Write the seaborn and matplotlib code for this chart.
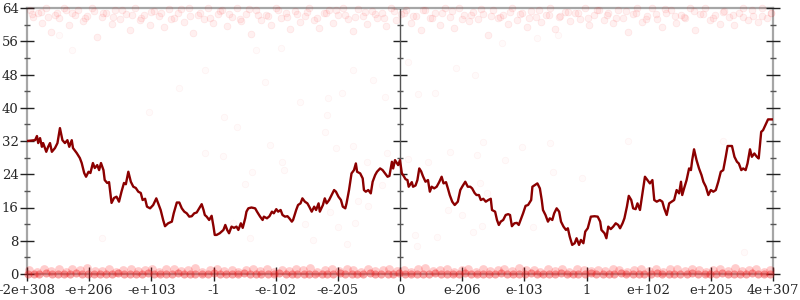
import matplotlib
matplotlib.use("Agg")
import matplotlib.pyplot as plt
import seaborn as sns
from matplotlib.ticker import MultipleLocator

# ---------------- data ----------------
tick_labels = ["-2e+308", "-e+206", "-e+103", "-1", "-e-102", "-e-205", "0",
               "e-206", "e-103", "1", "e+102", "e+205", "4e+307"]
tick_pos = [-6, -5, -4, -3, -2, -1, 0, 1, 2, 3, 4, 5, 6]
y_major = [0, 8, 16, 24, 32, 40, 48, 56, 64]

line_x = [
    -6.00, -5.87, -5.84, -5.82, -5.79, -5.76, -5.74, -5.69, -5.66, -5.63,
    -5.60, -5.55, -5.51, -5.47, -5.43, -5.39, -5.35, -5.32, -5.28, -5.26,
    -5.20, -5.15, -5.12, -5.08, -5.05, -5.01, -4.98, -4.94, -4.91, -4.87,
    -4.84, -4.81, -4.77, -4.75, -4.71, -4.68, -4.64, -4.60, -4.56, -4.52,
    -4.48, -4.44, -4.41, -4.37, -4.33, -4.29, -4.25, -4.21, -4.17, -4.14,
    -4.10, -4.07, -4.02, -3.97, -3.92, -3.89, -3.85, -3.81, -3.78, -3.73,
    -3.67, -3.64, -3.59, -3.55, -3.51, -3.47, -3.43, -3.39, -3.35, -3.31,
    -3.27, -3.23, -3.19, -3.16, -3.14, -3.11, -3.07, -3.03, -3.00, -2.98,
    -2.95, -2.90, -2.84, -2.81, -2.78, -2.75, -2.71, -2.67, -2.63, -2.60,
    -2.56, -2.53, -2.49, -2.47, -2.44, -2.39, -2.33, -2.30, -2.25, -2.21,
    -2.19, -2.14, -2.10, -2.06, -2.03, -1.99, -1.96, -1.92, -1.89, -1.85,
    -1.81, -1.78, -1.74, -1.72, -1.67, -1.64, -1.60, -1.57, -1.53, -1.49,
    -1.46, -1.42, -1.38, -1.35, -1.31, -1.29, -1.24, -1.21, -1.18, -1.14,
    -1.10, -1.06, -1.03, -0.99, -0.95, -0.92, -0.88, -0.86, -0.82, -0.78,
    -0.74, -0.71, -0.69, -0.64, -0.60, -0.58, -0.55, -0.51, -0.47, -0.44,
    -0.40, -0.37, -0.32, -0.28, -0.24, -0.20, -0.17, -0.13, -0.11, -0.08,
    -0.03, 0.00, 0.03, 0.05, 0.09, 0.12, 0.14, 0.19, 0.21, 0.25,
    0.28, 0.31, 0.34, 0.37, 0.41, 0.45, 0.48, 0.51, 0.55, 0.59,
    0.63, 0.67, 0.70, 0.74, 0.77, 0.80, 0.84, 0.88, 0.93, 0.97,
    1.00, 1.05, 1.09, 1.13, 1.16, 1.20, 1.23, 1.27, 1.30, 1.34,
    1.38, 1.42, 1.46, 1.48, 1.53, 1.56, 1.59, 1.62, 1.66, 1.70,
    1.74, 1.77, 1.80, 1.84, 1.88, 1.91, 1.95, 1.98, 2.02, 2.06,
    2.11, 2.13, 2.17, 2.21, 2.25, 2.28, 2.30, 2.34, 2.38, 2.41,
    2.45, 2.48, 2.52, 2.56, 2.59, 2.63, 2.67, 2.70, 2.73, 2.77,
    2.81, 2.84, 2.88, 2.91, 2.95, 2.98, 3.02, 3.07, 3.13, 3.18,
    3.22, 3.24, 3.29, 3.32, 3.35, 3.39, 3.43, 3.47, 3.51, 3.54,
    3.58, 3.61, 3.65, 3.68, 3.72, 3.75, 3.79, 3.82, 3.86, 3.90,
    3.94, 3.98, 4.02, 4.06, 4.09, 4.13, 4.18, 4.22, 4.25, 4.29,
    4.33, 4.37, 4.41, 4.45, 4.49, 4.52, 4.54, 4.57, 4.61, 4.65,
    4.68, 4.70, 4.73, 4.77, 4.81, 4.85, 4.88, 4.92, 4.96, 5.00,
    5.04, 5.08, 5.12, 5.16, 5.20, 5.24, 5.27, 5.34, 5.38, 5.42,
    5.45, 5.49, 5.52, 5.56, 5.59, 5.63, 5.66, 5.70, 5.74, 5.77,
    5.81, 5.84, 5.88, 5.92, 6.00,
]
line_y = [
    32.0, 32.2, 33.2, 31.5, 32.7, 30.6, 31.5, 29.4, 30.6, 31.5,
    29.4, 30.3, 31.5, 35.1, 32.2, 31.5, 32.2, 30.6, 32.2, 30.3,
    29.1, 27.9, 26.7, 24.3, 23.4, 24.6, 24.3, 26.7, 25.5, 26.2,
    25.0, 26.7, 25.0, 22.6, 21.9, 22.1, 17.1, 18.3, 18.6, 17.4,
    19.8, 21.9, 21.6, 24.6, 22.2, 21.0, 20.7, 19.8, 19.5, 17.8,
    18.1, 16.2, 15.8, 16.6, 18.2, 17.0, 15.4, 13.0, 11.5, 12.2,
    12.6, 14.6, 17.2, 17.2, 15.8, 15.0, 14.6, 13.8, 13.9, 14.6,
    14.8, 15.8, 16.8, 15.4, 14.2, 13.8, 13.0, 14.0, 11.4, 9.4,
    9.4, 9.8, 10.6, 11.8, 10.6, 9.8, 11.4, 11.1, 11.4, 10.6,
    12.2, 11.1, 13.4, 15.0, 15.8, 16.0, 15.8, 15.0, 13.8, 13.0,
    13.8, 13.4, 13.9, 15.0, 14.6, 15.6, 15.0, 15.4, 14.2, 13.8,
    13.9, 13.4, 12.6, 13.0, 15.4, 16.6, 17.0, 18.2, 17.4, 17.0,
    16.2, 15.0, 16.2, 15.4, 17.0, 15.0, 16.6, 18.2, 17.0, 17.8,
    19.0, 20.2, 19.8, 18.6, 17.8, 16.2, 15.8, 17.0, 20.2, 24.2,
    25.0, 26.6, 24.6, 24.2, 23.0, 20.2, 19.8, 20.2, 19.4, 22.2,
    23.8, 24.6, 25.4, 25.0, 24.2, 23.4, 23.6, 27.0, 25.4, 27.4,
    26.2, 27.4, 24.2, 23.8, 22.8, 22.6, 21.0, 22.1, 21.0, 21.3,
    22.6, 25.4, 24.7, 23.5, 22.2, 22.6, 19.8, 21.0, 20.6, 21.0,
    22.1, 23.4, 21.8, 22.1, 20.6, 19.0, 17.4, 16.6, 17.4, 20.2,
    21.0, 22.2, 21.0, 21.0, 20.6, 19.5, 19.0, 19.0, 17.8, 18.1,
    17.4, 17.8, 18.1, 15.4, 15.0, 13.0, 11.8, 12.6, 13.0, 14.2,
    14.4, 14.2, 11.5, 12.2, 12.3, 11.8, 13.4, 14.6, 16.4, 16.6,
    17.8, 21.0, 21.4, 21.8, 20.6, 17.8, 15.4, 14.2, 12.6, 13.4,
    13.0, 14.6, 15.8, 15.0, 12.6, 11.4, 10.6, 11.0, 9.0, 7.0,
    7.4, 8.6, 7.0, 8.2, 7.4, 10.2, 11.0, 13.8, 13.9, 13.8,
    12.6, 10.6, 9.8, 8.6, 11.4, 10.8, 11.4, 12.2, 11.8, 11.0,
    12.2, 13.4, 16.2, 18.8, 17.8, 15.8, 15.6, 17.0, 15.4, 19.4,
    23.4, 22.6, 21.8, 22.6, 17.8, 17.4, 17.8, 17.4, 15.8, 14.2,
    17.0, 17.4, 17.8, 20.2, 19.4, 22.2, 19.0, 20.6, 22.6, 25.4,
    25.0, 27.4, 30.0, 27.4, 25.4, 23.8, 22.2, 21.0, 19.0, 20.2,
    19.8, 20.2, 22.2, 24.6, 25.0, 28.2, 30.8, 30.8, 28.2, 27.0,
    26.6, 25.0, 25.4, 25.0, 26.6, 30.0, 28.2, 29.0, 28.2, 27.8,
    34.2, 34.6, 35.9, 37.2, 37.2,
]

top_x = [
    -5.95, -5.90, -5.83, -5.76, -5.70, -5.62, -5.55, -5.49, -5.41, -5.33,
    -5.27, -5.18, -5.10, -5.03, -4.95, -4.88, -4.80, -4.73, -4.64, -4.58,
    -4.50, -4.41, -4.35, -4.26, -4.18, -4.11, -4.02, -3.95, -3.87, -3.80,
    -3.71, -3.63, -3.57, -3.48, -3.40, -3.33, -3.25, -3.16, -3.09, -3.01,
    -2.93, -2.86, -2.78, -2.70, -2.62, -2.55, -2.47, -2.40, -2.31, -2.24,
    -2.15, -2.08, -2.00, -1.92, -1.84, -1.77, -1.69, -1.61, -1.53, -1.46,
    -1.38, -1.30, -1.22, -1.15, -1.07, -0.99, -0.91, -0.84, -0.76, -0.68,
    -0.60, -0.53, -0.45, -0.37, -0.29, -0.22, -0.14, -0.06, 0.02, 0.10,
    0.18, 0.25, 0.33, 0.41, 0.49, 0.56, 0.64, 0.72, 0.80, 0.87,
    0.95, 1.03, 1.11, 1.18, 1.26, 1.34, 1.42, 1.49, 1.57, 1.65,
    1.73, 1.80, 1.88, 1.96, 2.04, 2.11, 2.19, 2.27, 2.35, 2.42,
    2.50, 2.58, 2.66, 2.73, 2.81, 2.89, 2.97, 3.04, 3.12, 3.20,
    3.28, 3.35, 3.43, 3.51, 3.59, 3.66, 3.74, 3.82, 3.90, 3.97,
    4.05, 4.13, 4.21, 4.28, 4.36, 4.44, 4.52, 4.59, 4.67, 4.75,
    4.83, 4.90, 4.98, 5.06, 5.14, 5.21, 5.29, 5.37, 5.45, 5.52,
    5.60, 5.68, 5.76, 5.83, 5.91, 5.97,
]
top_y = [
    63.6, 61.8, 62.9, 60.4, 64.0, 58.2, 62.4, 61.5, 64.0, 59.9,
    62.7, 63.4, 60.8, 62.1, 64.0, 57.0, 61.9, 62.8, 60.2, 63.5,
    61.4, 62.6, 58.8, 64.0, 61.0, 62.3, 60.0, 63.2, 62.0, 59.4,
    63.7, 61.6, 62.9, 60.6, 64.0, 58.0, 62.2, 61.3, 64.0, 60.3,
    62.5, 63.4, 59.6, 61.8, 64.0, 60.9, 62.6, 57.8, 63.6, 61.2,
    62.4, 60.0, 64.0, 61.7, 62.9, 58.9, 63.3, 60.7, 62.1, 64.0,
    61.1, 59.3, 62.8, 63.5, 60.5, 62.2, 64.0, 61.4, 58.4, 63.7,
    62.0, 60.2, 63.2, 61.6, 62.7, 59.7, 64.0, 61.0, 62.5, 63.4,
    60.4, 62.1, 58.6, 63.6, 61.5, 62.9, 60.0, 64.0, 61.9, 59.1,
    64.0, 62.3, 60.8, 63.0, 61.3, 62.6, 57.6, 63.5, 61.7, 62.2,
    60.1, 64.0, 61.1, 62.8, 59.5, 63.3, 61.8, 60.6, 62.4, 64.0,
    58.9, 62.0, 63.1, 60.9, 62.7, 61.4, 64.0, 59.8, 62.3, 63.4,
    61.0, 62.8, 60.3, 63.6, 61.7, 58.3, 62.5, 64.0, 60.7, 62.0,
    64.0, 61.3, 59.4, 62.9, 63.5, 60.5, 62.2, 61.6, 64.0, 58.7,
    62.6, 64.0, 61.0, 62.4, 60.2, 63.3, 61.9, 59.9, 62.7, 64.0,
    61.2, 62.1, 60.6, 64.0, 61.5, 62.8,
]

top2_x = [
    -5.92, -5.78, -5.66, -5.52, -5.37, -5.22, -5.07, -4.93, -4.77, -4.62,
    -4.47, -4.31, -4.16, -4.01, -3.84, -3.69, -3.53, -3.38, -3.21, -3.06,
    -2.90, -2.75, -2.58, -2.43, -2.28, -2.12, -1.97, -1.81, -1.65, -1.50,
    -1.34, -1.19, -1.03, -0.88, -0.72, -0.57, -0.41, -0.25, -0.10, 0.06,
    0.21, 0.37, 0.52, 0.68, 0.84, 0.99, 1.15, 1.30, 1.46, 1.61,
    1.77, 1.93, 2.08, 2.24, 2.39, 2.55, 2.70, 2.86, 3.02, 3.17,
    3.33, 3.48, 3.64, 3.79, 3.95, 4.11, 4.26, 4.42, 4.57, 4.73,
    4.88, 5.04, 5.20, 5.35, 5.51, 5.66, 5.82, 5.96,
]
top2_y = [
    62.5, 63.1, 61.8, 62.9, 63.6, 62.2, 61.5, 63.3, 62.7, 61.9,
    63.5, 62.4, 61.6, 63.0, 62.8, 61.4, 63.7, 62.1, 62.9, 61.7,
    63.2, 62.6, 61.3, 63.8, 62.3, 62.0, 63.4, 61.8, 62.6, 63.1,
    61.5, 62.9, 63.6, 62.2, 61.9, 63.0, 62.5, 61.6, 63.3, 62.8,
    62.0, 63.5, 61.7, 62.7, 63.2, 61.4, 62.4, 63.7, 62.1, 61.8,
    63.0, 62.6, 61.5, 63.4, 62.3, 61.9, 63.1, 62.8, 61.6, 63.6,
    62.2, 61.7, 63.3, 62.9, 61.4, 62.5, 63.8, 62.0, 61.8, 63.2,
    62.6, 61.5, 63.0, 62.4, 61.9, 63.5, 62.1, 62.7,
]

mid_x = [
    -5.28, -5.49, -3.55, -4.04, -3.13, -2.17, -1.91, -2.32, -1.16, -1.61,
    -1.17, -2.83, 1.34, 1.96, 2.41, 0.80, 1.24, 1.69, 0.13, 0.45,
    2.46, 2.93, 1.29, 1.40, 0.77, 1.00, 1.17, 1.32, 0.60, 0.24,
    2.14, 0.27, -2.62, -2.85, -2.09, -2.38, -2.49, -1.90, -1.87, -1.21,
    -1.03, -0.76, -0.53, -0.68, -0.51, -0.29, -0.21, -1.13, -1.00, -0.72,
    -2.41, -2.69, -1.53, -1.40, -0.85, -3.14, -4.79, 3.67, 5.20, 5.53,
    -0.76, -0.43, 0.13, 0.90, 1.21, -0.93, -0.24, 0.29, 0.56, 1.64,
    2.20, 2.54,
]
mid_y = [
    53.9, 57.4, 44.7, 39.0, 49.0, 46.2, 54.4, 54.0, 42.3, 41.4,
    38.3, 37.8, 31.8, 30.5, 31.5, 29.3, 28.6, 27.4, 27.7, 27.0,
    24.5, 23.0, 21.9, 19.5, 15.4, 14.2, 10.1, 11.5, 8.9, 9.4,
    11.3, 6.7, 35.4, 28.4, 31.0, 24.5, 21.7, 27.0, 25.0, 34.2,
    30.3, 30.8, 27.0, 17.6, 16.4, 21.4, 29.1, 14.9, 11.3, 12.3,
    8.7, 12.3, 12.0, 8.2, 7.2, 29.1, 8.7, 32.0, 32.0, 5.3,
    49.0, 46.7, 51.0, 49.6, 47.9, 43.6, 42.6, 43.3, 43.6, 55.6,
    56.8, 57.5,
]

floor_x = [
    -5.98, -5.89, -5.80, -5.69, -5.60, -5.50, -5.41, -5.31, -5.21, -5.12, -5.02, -4.92,
    -4.83, -4.73, -4.63, -4.54, -4.44, -4.35, -4.25, -4.15, -4.06, -3.96, -3.86, -3.77,
    -3.67, -3.57, -3.48, -3.38, -3.29, -3.19, -3.09, -3.00, -2.90, -2.80, -2.71, -2.61,
    -2.51, -2.42, -2.32, -2.23, -2.13, -2.03, -1.94, -1.84, -1.74, -1.65, -1.55, -1.46,
    -1.36, -1.26, -1.17, -1.07, -0.97, -0.88, -0.78, -0.69, -0.59, -0.49, -0.40, -0.30,
    -0.20, -0.11, -0.01, 0.08, 0.18, 0.28, 0.37, 0.47, 0.56, 0.66, 0.76, 0.85,
    0.95, 1.05, 1.14, 1.24, 1.33, 1.43, 1.53, 1.62, 1.72, 1.82, 1.91, 2.01,
    2.10, 2.20, 2.30, 2.39, 2.49, 2.59, 2.68, 2.78, 2.87, 2.97, 3.07, 3.16,
    3.26, 3.36, 3.45, 3.55, 3.64, 3.74, 3.84, 3.93, 4.03, 4.13, 4.22, 4.32,
    4.41, 4.51, 4.61, 4.70, 4.80, 4.90, 4.99, 5.09, 5.18, 5.28, 5.38, 5.47,
    5.57, 5.67, 5.76, 5.86, 5.95,
]
floor_y = [
    0.0, 0.1, 0.0, 0.2, 0.0, 0.0, 0.1, 0.0, 0.2, 0.0, 0.1, 0.0,
    0.1, 0.0, 0.0, 0.2, 0.0, 0.1, 0.0, 0.0, 0.2, 0.1, 0.0, 0.0,
    0.0, 0.2, 0.1, 0.0, 0.0, 0.1, 0.0, 0.2, 0.0, 0.0, 0.1, 0.0,
    0.2, 0.0, 0.0, 0.1, 0.0, 0.0, 0.2, 0.1, 0.0, 0.0, 0.1, 0.0,
    0.0, 0.1, 0.0, 0.0, 0.2, 0.0, 0.1, 0.0, 0.0, 0.2, 0.0, 0.1,
    0.1, 0.0, 0.2, 0.0, 0.0, 0.1, 0.0, 0.0, 0.2, 0.0, 0.1, 0.0,
    0.0, 0.2, 0.0, 0.1, 0.0, 0.0, 0.1, 0.2, 0.0, 0.0, 0.0, 0.1,
    0.2, 0.0, 0.1, 0.0, 0.0, 0.2, 0.0, 0.0, 0.1, 0.0, 0.2, 0.0,
    0.0, 0.1, 0.0, 0.2, 0.0, 0.0, 0.1, 0.0, 0.0, 0.2, 0.1, 0.0,
    0.1, 0.0, 0.0, 0.2, 0.0, 0.1, 0.0, 0.0, 0.2, 0.0, 0.1, 0.0,
    0.0, 0.2, 0.0, 0.1, 0.0,
]

low_x = [
    -5.96, -5.84, -5.73, -5.61, -5.49, -5.38, -5.27, -5.14, -5.03, -4.91,
    -4.80, -4.68, -4.57, -4.45, -4.33, -4.22, -4.10, -3.99, -3.87, -3.76,
    -3.64, -3.52, -3.41, -3.29, -3.18, -3.06, -2.95, -2.83, -2.71, -2.60,
    -2.48, -2.37, -2.25, -2.14, -2.02, -1.90, -1.79, -1.67, -1.56, -1.44,
    -1.33, -1.21, -1.09, -0.98, -0.86, -0.75, -0.63, -0.52, -0.40, -0.28,
    -0.17, -0.05, 0.06, 0.18, 0.29, 0.41, 0.53, 0.64, 0.76, 0.87,
    0.99, 1.10, 1.22, 1.34, 1.45, 1.57, 1.68, 1.80, 1.91, 2.03,
    2.15, 2.26, 2.38, 2.49, 2.61, 2.72, 2.84, 2.96, 3.07, 3.19,
    3.30, 3.42, 3.53, 3.65, 3.77, 3.88, 4.00, 4.11, 4.23, 4.34,
    4.46, 4.58, 4.69, 4.81, 4.92, 5.04, 5.15, 5.27, 5.39, 5.50,
    5.62, 5.73, 5.85, 5.95,
]
low_y = [
    1.0, 0.6, 1.3, 0.8, 1.1, 0.5, 1.2, 0.9, 1.4, 0.7,
    0.8, 1.2, 0.6, 1.0, 1.3, 0.7, 0.9, 1.1, 0.5, 1.2,
    1.1, 0.7, 1.0, 1.4, 0.6, 0.9, 1.2, 0.8, 1.0, 0.5,
    0.9, 1.3, 0.7, 1.1, 0.6, 1.0, 0.8, 1.2, 0.9, 1.4,
    0.6, 1.0, 1.2, 0.7, 1.3, 0.9, 0.5, 1.1, 0.8, 1.0,
    1.2, 0.8, 1.0, 0.6, 1.1, 1.4, 0.7, 0.9, 1.2, 0.5,
    0.9, 1.1, 0.6, 1.3, 0.8, 1.0, 1.2, 0.7, 1.4, 0.9,
    1.0, 0.5, 1.2, 0.8, 1.1, 0.6, 1.3, 0.9, 0.7, 1.0,
    0.8, 1.2, 0.9, 0.5, 1.0, 1.3, 0.7, 1.1, 0.6, 1.2,
    1.1, 0.7, 1.3, 0.9, 0.6, 1.0, 1.2, 0.8, 1.4, 0.7,
    0.9, 1.1, 0.6, 1.0,
]

# ---------------- style ----------------
sns.set_style("ticks")
plt.rcParams["font.family"] = ["DejaVu Serif"]
plt.rcParams["font.size"] = 9.5

fig = plt.figure(figsize=(8, 3), dpi=100)
ax = fig.add_axes([27 / 800, 26 / 300, 746 / 800, 266 / 300])

pt_kw = dict(clip_on=False, legend=False, ax=ax, zorder=1)
sns.scatterplot(x=mid_x, y=mid_y, s=22, linewidth=0.6,
                color=(1, 0, 0, 0.02), edgecolor=(0.9, 0, 0, 0.035), **pt_kw)
sns.scatterplot(x=top_x, y=top_y, s=24, linewidth=0.5,
                color=(1, 0, 0, 0.06), edgecolor=(0.95, 0, 0, 0.08), **pt_kw)
sns.scatterplot(x=top2_x, y=top2_y, s=24, linewidth=0.5,
                color=(1, 0, 0, 0.06), edgecolor=(0.95, 0, 0, 0.08), **pt_kw)
sns.scatterplot(x=low_x, y=low_y, s=40, linewidth=0,
                color=(1, 0.1, 0.1, 0.22), **pt_kw)
sns.scatterplot(x=floor_x, y=floor_y, s=34, linewidth=0,
                color=(0.93, 0.1, 0.1, 0.40), **pt_kw)

sns.lineplot(x=line_x, y=line_y, color="#8b0000", linewidth=1.7,
             estimator=None, sort=False, ax=ax, zorder=3)

ax.set_xlim(-6, 6)
ax.set_ylim(0, 64)
ax.set_xticks(tick_pos)
ax.set_xticklabels(tick_labels)
ax.set_yticks(y_major)
ax.yaxis.set_minor_locator(MultipleLocator(4))
ax.set_xlabel("")
ax.set_ylabel("")

for side in ["left", "right", "top", "bottom"]:
    ax.spines[side].set_color("#a6a6a6")
    ax.spines[side].set_linewidth(1.6)
    ax.spines[side].set_zorder(0.5)

ax.tick_params(axis="y", which="major", direction="inout", length=10,
               width=1, color="#222222", left=True, right=True,
               labelleft=True, labelright=False, pad=1, labelsize=9.5)
ax.tick_params(axis="y", which="minor", direction="inout", length=5,
               width=1, color="#555555", left=True, right=True)
ax.tick_params(axis="x", which="major", direction="inout", length=10,
               width=1, color="#222222", bottom=True, top=False, pad=2,
               labelsize=9.5)

# middle axis at x = 0
sec = ax.secondary_yaxis(0.5)
sec.set_yticks(y_major)
sec.yaxis.set_minor_locator(MultipleLocator(4))
sec.tick_params(which="major", direction="inout", length=10, width=1,
                color="#222222", labelleft=False, labelright=False)
sec.tick_params(which="minor", direction="inout", length=5, width=1,
                color="#555555")
for side in ["left", "right"]:
    sec.spines[side].set_color("#555555")
    sec.spines[side].set_linewidth(1.0)

fig.savefig("out.png", dpi=100)
